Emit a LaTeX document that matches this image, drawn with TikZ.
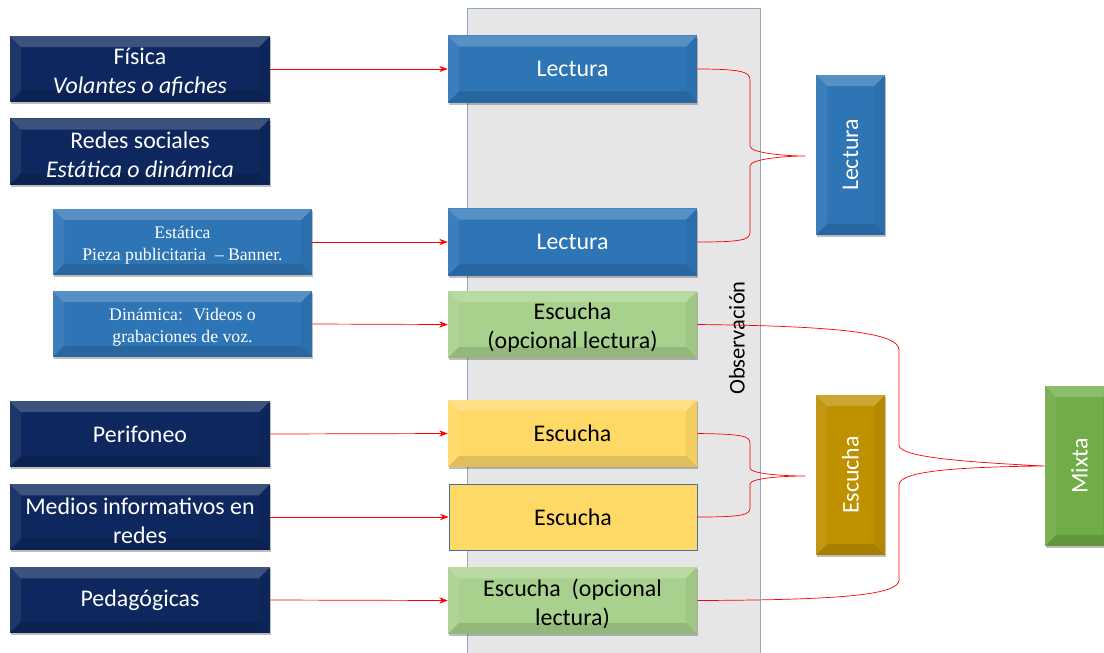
\documentclass[tikz,border=0pt]{standalone}
\usepackage{fontspec}
\setmainfont{Carlito}
\newfontfamily\tnr{Liberation Serif}
\usetikzlibrary{arrows.meta,shadows}
\definecolor{navy}{HTML}{0E275E}
\definecolor{mblue}{HTML}{2E75B6}
\definecolor{lgreen}{HTML}{A9D18E}
\definecolor{lyellow}{HTML}{FFD966}
\definecolor{gold}{HTML}{BF9000}
\definecolor{mgreen}{HTML}{70AD47}
\definecolor{obsgray}{HTML}{E7E6E6}
\definecolor{obsedge}{HTML}{8EA9C1}
\definecolor{flatedge}{HTML}{41719C}
\definecolor{lred}{HTML}{FF0000}
\tikzset{
  bevel/.style={path picture={
    \fill[white,opacity=.2] (path picture bounding box.north west) -- (path picture bounding box.north east) -- ([shift={(-8pt,-8pt)}]path picture bounding box.north east) -- ([shift={(8pt,-8pt)}]path picture bounding box.north west) -- cycle;
    \fill[black,opacity=.12] (path picture bounding box.south west) -- (path picture bounding box.south east) -- ([shift={(-8pt,8pt)}]path picture bounding box.south east) -- ([shift={(8pt,8pt)}]path picture bounding box.south west) -- cycle;
    \fill[white,opacity=.07] (path picture bounding box.north west) -- ([shift={(8pt,-8pt)}]path picture bounding box.north west) -- ([shift={(8pt,8pt)}]path picture bounding box.south west) -- (path picture bounding box.south west) -- cycle;
    \fill[black,opacity=.05] (path picture bounding box.north east) -- ([shift={(-8pt,-8pt)}]path picture bounding box.north east) -- ([shift={(-8pt,8pt)}]path picture bounding box.south east) -- (path picture bounding box.south east) -- cycle;
  }},
  shad/.style={drop shadow={shadow xshift=1pt,shadow yshift=-1.5pt,opacity=.25,fill=black}},
  base/.style={inner sep=0pt,align=center,font=\fontsize{17}{20.5}\selectfont,shad,bevel},
  navybox/.style={base,fill=navy,text=white,minimum width=6.5cm,minimum height=1.65cm,text width=6.4cm},
  bluebox/.style={base,fill=mblue,minimum width=6.475cm,minimum height=1.65cm},
  midbox/.style={base,minimum width=6.225cm,minimum height=1.675cm,text width=6.1cm},
  vbox/.style={base,minimum width=1.725cm,minimum height=4cm},
  vtext/.style={rotate=90,font=\fontsize{17}{20.5}\selectfont,text=white},
  lowtext/.style={inner sep=0pt,align=center,font=\fontsize{17}{20.5}\selectfont,yshift=-2.5pt},
  sertext/.style={inner sep=0pt,align=center,text=white,font=\tnr\fontsize{12.6}{15.8}\selectfont,yshift=-2.5pt},
  link/.style={draw=lred,line width=0.5pt,-{Stealth[length=6pt,width=4.5pt]}},
  brace/.style={draw=lred,line width=0.5pt}
}
\begin{document}
\begin{tikzpicture}[x=0.025cm,y=-0.025cm]
\useasboundingbox (0,0) rectangle (1104,652);
% observation band
\draw[fill=obsgray,draw=obsedge,line width=0.6pt] (467,8) rectangle (760,660);
\node[rotate=90,font=\fontsize{16}{19}\selectfont] (obs) at (737,338) {Observación};

% left boxes
\node[navybox,label={[lowtext,text=white]center:{Física\\\textit{Volantes o afiches}}}] (fis) at (140,69) {};
\node[navybox,label={[lowtext,text=white]center:{Redes sociales\\\textit{Estática o dinámica}}}] (red) at (140,151.5) {};
\node[bluebox,label={[sertext]center:{Estática\\Pieza publicitaria \ – Banner.}}] (est) at (182.5,242) {};
\node[bluebox,label={[sertext]center:{Dinámica: \ Videos o\\grabaciones de voz.}}] (din) at (182.5,324) {};
\node[navybox] (per) at (140,434) {Perifoneo};
\node[navybox,label={[lowtext,text=white]center:{Medios informativos en\\redes}}] (med) at (140,517) {};
\node[navybox] (ped) at (140,600) {Pedagógicas};

% middle boxes
\node[midbox,fill=mblue,text=white] (lec1) at (572.5,69) {Lectura};
\node[midbox,fill=mblue,text=white] (lec2) at (572.5,242) {Lectura};
\node[midbox,fill=lgreen,label={[lowtext]center:{Escucha\\(opcional lectura)}}] (esc1) at (572.5,324.5) {};
\node[midbox,fill=lyellow] (esc2) at (572.5,433.5) {Escucha};
\node[inner sep=0pt,align=center,font=\fontsize{17}{20.5}\selectfont,fill=lyellow,draw=flatedge,line width=0.6pt,minimum width=6.2cm,minimum height=1.65cm] (esc3) at (573,517) {Escucha};
\node[midbox,fill=lgreen,label={[lowtext]center:{Escucha \ (opcional\\lectura)}}] (esc4) at (572.5,600.5) {};

% right boxes
\node[vbox,fill=mblue,label={[vtext]center:Lectura}] (vlec) at (850.5,155) {};
\node[vbox,fill=gold,label={[vtext]center:Escucha}] (vesc) at (850.5,475) {};
\node[vbox,fill=mgreen,label={[vtext]center:Mixta}] (mix) at (1079.5,466) {};

% arrows
\draw[link] (fis.east) -- (lec1.west);
\draw[link] (est.east) -- (lec2.west);
\draw[link] (din.east) -- (esc1.west);
\draw[link] (per.east) -- (esc2.west);
\draw[link] (med.east) -- (esc3.west);
\draw[link] (ped.east) -- (esc4.west);

% braces
\coordinate (tipL) at (805,156);
\coordinate (tipE) at (805,476);
\draw[brace] (lec1.east) .. controls (742,69) and (750,72) .. (750,80) -- (750,146)
  .. controls (750,153) and (785,156) .. (tipL)
  .. controls (785,156) and (750,159) .. (750,166) -- (750,232)
  .. controls (750,240) and (742,242) .. (lec2.east);
\draw[brace] (esc2.east) .. controls (742,434) and (750,436) .. (750,443) -- (750,468)
  .. controls (750,474) and (785,476) .. (tipE)
  .. controls (785,476) and (750,478) .. (750,484) -- (750,508)
  .. controls (750,515) and (742,517) .. (esc3.east);
\draw[brace] (esc1.east) .. controls (840,326) and (899,333) .. (899,350) -- (899,445)
  .. controls (899,455) and (940,461) .. (mix.west)
  .. controls (940,467) and (899,473) .. (899,485) -- (899,580)
  .. controls (899,595) and (840,600) .. (esc4.east);
\end{tikzpicture}
\end{document}
